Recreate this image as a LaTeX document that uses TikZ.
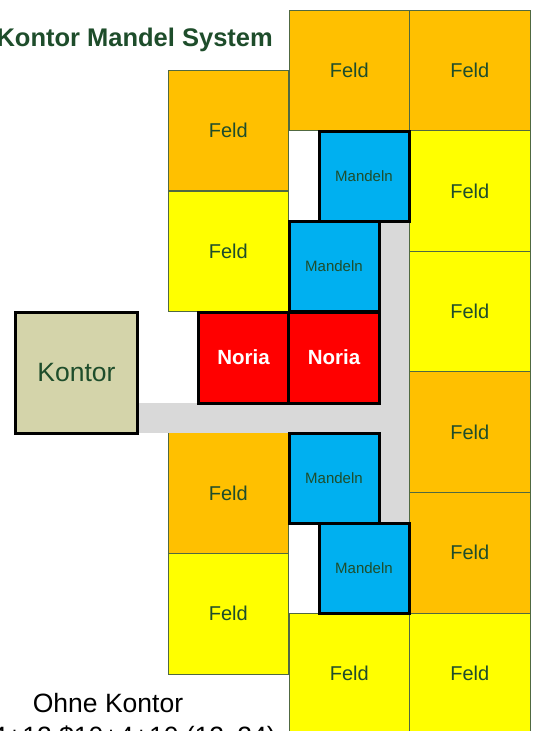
\documentclass[tikz,border=0pt]{standalone}
\usepackage{fontspec}
\setmainfont{Liberation Sans}
\definecolor{feldorange}{RGB}{255,192,0}
\definecolor{feldyellow}{RGB}{255,255,0}
\definecolor{mandelblue}{RGB}{0,176,240}
\definecolor{noriared}{RGB}{255,0,0}
\definecolor{kontortan}{RGB}{212,212,170}
\definecolor{roadgray}{RGB}{217,217,217}
\definecolor{darkgreen}{RGB}{30,77,43}
\definecolor{feldline}{RGB}{80,105,65}
\tikzset{
  feld/.style={draw=feldline, line width=0.9pt, minimum width=120.5pt, minimum height=120.6pt,
    inner sep=0pt, text=darkgreen, font=\fontsize{20}{22}\selectfont},
  feldO/.style={feld, fill=feldorange},
  feldY/.style={feld, fill=feldyellow},
  mandel/.style={draw=black, line width=3pt, fill=mandelblue, minimum width=90pt, minimum height=90pt,
    inner sep=0pt, text=darkgreen, font=\fontsize{15}{17}\selectfont},
  noria/.style={draw=black, line width=3pt, fill=noriared, minimum width=90.5pt, minimum height=91pt,
    inner sep=0pt, text=white, font=\fontsize{20.5}{22}\selectfont\bfseries},
  kontor/.style={draw=black, line width=3pt, fill=kontortan, minimum width=122pt, minimum height=121pt,
    inner sep=0pt, text=darkgreen, font=\fontsize{26.5}{28}\selectfont},
  road/.style={fill=roadgray, draw=none},
  title/.style={text=darkgreen, font=\fontsize{25.5}{28}\selectfont\bfseries, inner sep=0pt},
  note/.style={text=black, font=\fontsize{26.5}{30}\selectfont, inner sep=0pt, align=center}
}
\begin{document}
\begin{tikzpicture}[x=1pt,y=-1pt]
\useasboundingbox (0,0) rectangle (534,731);
\clip (0,0) rectangle (534,731);
\fill[white] (0,0) rectangle (534,731);
% right column B
\node[feldO] (b1) at (469.75,70.3) {Feld};
\node[feldY] (b2) at (469.75,190.9) {Feld};
\node[feldY] (b3) at (469.75,311.5) {Feld};
\node[feldO] (b4) at (469.75,432.1) {Feld};
\node[feldO] (b5) at (469.75,552.7) {Feld};
\node[feldY] (b6) at (469.75,673.3) {Feld};
% column A
\node[feldO] (a1) at (349.25,70.3) {Feld};
\node[feldY] (a6) at (349.25,673.3) {Feld};
% left column
\node[feldO] (l1) at (228.25,130.5) {Feld};
\node[feldY] (l2) at (228.25,251.5) {Feld};
\node[feldO] (l3) at (228.25,493.2) {Feld};
\node[feldY] (l4) at (228.25,613.8) {Feld};
% road
\coordinate (r1) at (137,403);
\coordinate (r2) at (409,221);
\fill[road] (r1) rectangle (409,433);
\fill[road] (379,221) rectangle (409,523);
% Mandeln
\node[mandel] (m1) at (364,176) {Mandeln};
\node[mandel] (m2) at (334,266.5) {Mandeln};
\node[mandel] (m3) at (334,478) {Mandeln};
\node[mandel] (m4) at (364,568.5) {Mandeln};
% Noria
\node[noria] (n1) at (243.5,357.5) {Noria};
\node[noria] (n2) at (334,357.5) {Noria};
% Kontor
\node[kontor] (k) at (76.5,372.5) {Kontor};
% texts
\node[title, anchor=east] (t) at (273,40) {Kontor Mandel System};
\node[note] (o1) at (108,703) {Ohne Kontor};
\node[note, anchor=east] (o2) at (276,738) {4+4+12 \$10+4+10 (12x24)};
\end{tikzpicture}
\end{document}
